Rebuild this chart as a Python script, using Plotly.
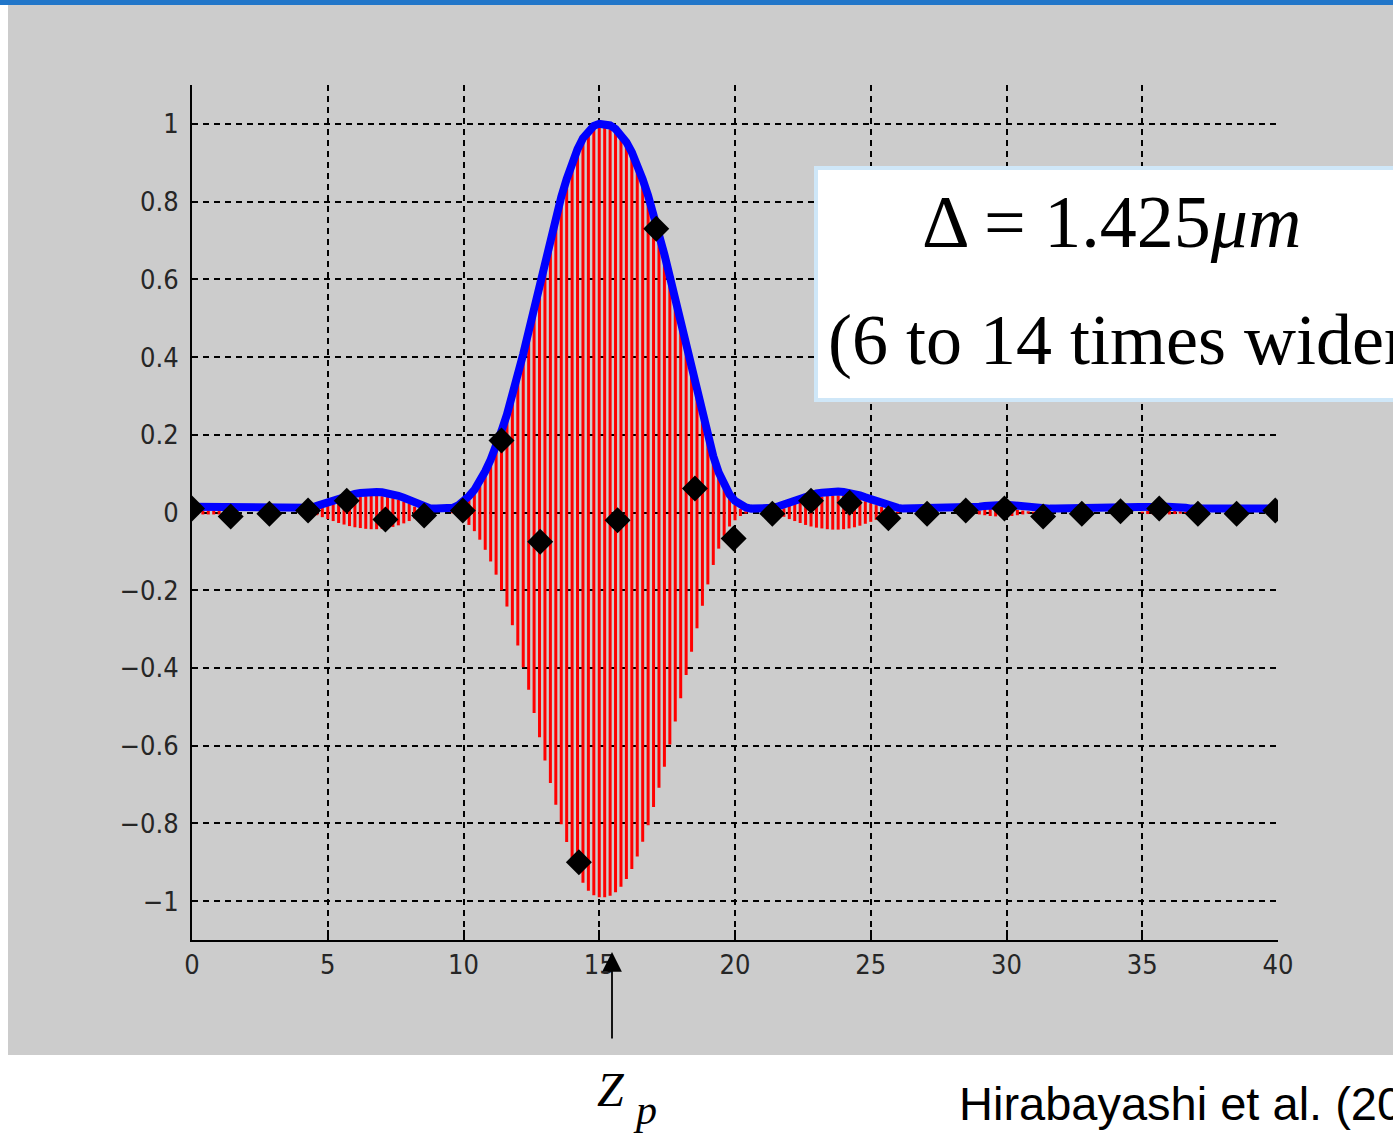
import plotly.graph_objects as go

# ---------------- data ----------------
env_step = 0.2
envelope = [
    0.015, 0.015, 0.015, 0.015, 0.015, 0.015, 0.015, 0.015, 0.012, 0.010,
    0.010, 0.010, 0.010, 0.010, 0.010, 0.010, 0.010, 0.010, 0.010, 0.010,
    0.010, 0.010, 0.012, 0.017, 0.022, 0.027, 0.032, 0.037, 0.041, 0.045,
    0.048, 0.050, 0.052, 0.053, 0.053, 0.052, 0.050, 0.047, 0.043, 0.038,
    0.032, 0.025, 0.018, 0.012, 0.010, 0.010, 0.010, 0.010, 0.012, 0.018,
    0.028, 0.042, 0.058, 0.080, 0.106, 0.136, 0.170, 0.210, 0.252, 0.300,
    0.352, 0.408, 0.466, 0.526, 0.588, 0.648, 0.706, 0.762, 0.812, 0.858,
    0.900, 0.935, 0.963, 0.983, 0.995, 1.000, 1.000, 0.996, 0.987, 0.973,
    0.953, 0.927, 0.895, 0.857, 0.815, 0.768, 0.718, 0.664, 0.607, 0.548,
    0.488, 0.428, 0.368, 0.308, 0.250, 0.195, 0.145, 0.103, 0.070, 0.046,
    0.030, 0.019, 0.013, 0.010, 0.010, 0.010, 0.010, 0.012, 0.016, 0.021,
    0.027, 0.032, 0.037, 0.042, 0.046, 0.049, 0.051, 0.053, 0.054, 0.054,
    0.053, 0.051, 0.048, 0.044, 0.039, 0.034, 0.029, 0.024, 0.019, 0.015,
    0.012, 0.010, 0.010, 0.010, 0.010, 0.010, 0.010, 0.010, 0.010, 0.010,
    0.010, 0.010, 0.010, 0.010, 0.012, 0.015, 0.017, 0.019, 0.020, 0.020,
    0.020, 0.019, 0.017, 0.015, 0.013, 0.012, 0.010, 0.010, 0.010, 0.010,
    0.010, 0.010, 0.010, 0.010, 0.010, 0.010, 0.010, 0.010, 0.010, 0.010,
    0.010, 0.010, 0.010, 0.010, 0.010, 0.012, 0.014, 0.015, 0.016, 0.016,
    0.015, 0.014, 0.013, 0.012, 0.010, 0.010, 0.010, 0.010, 0.010, 0.010,
    0.010, 0.010, 0.010, 0.010, 0.010, 0.010, 0.010, 0.010, 0.010, 0.010,
    0.010,
]
env_x = [round(i * env_step, 1) for i in range(len(envelope))]
baseline = 0.01

sample_x = [0.0, 1.425, 2.85, 4.275, 5.7, 7.125, 8.55, 9.975, 11.4, 12.825,
            14.25, 15.675, 17.1, 18.525, 19.95, 21.375, 22.8, 24.225, 25.65,
            27.075, 28.5, 29.925, 31.35, 32.775, 34.2, 35.625, 37.05, 38.475, 39.9]
sample_y = [0.010, -0.010, -0.003, 0.005, 0.030, -0.018, -0.008, 0.005, 0.185,
            -0.075, -0.900, -0.020, 0.730, 0.062, -0.067, -0.003, 0.030, 0.025,
            -0.015, -0.003, 0.005, 0.010, -0.010, -0.003, 0.003, 0.010, -0.003,
            -0.003, 0.005]

x_ticks = [0, 5, 10, 15, 20, 25, 30, 35, 40]
y_ticks = [-1, -0.8, -0.6, -0.4, -0.2, 0, 0.2, 0.4, 0.6, 0.8, 1]

# red fringe signal: vertical strokes spanning +/- envelope
red_x, red_y = [], []
for x, e in zip(env_x, envelope):
    a = max(e - baseline, 0.0)
    red_x += [x, x, None]
    red_y += [-a, a, None]

# ---------------- figure ----------------
W, H = 1393, 1138
L, R, T, B = 192, 1393 - 1278, 85, 1138 - 940
PW, PH = W - L - R, H - T - B


def px(xp):
    return (xp - L) / PW


def py(yp):
    return 1 - (yp - T) / PH


fig = go.Figure()
fig.add_trace(go.Scatter(x=red_x, y=red_y, mode="lines",
                         line=dict(color="#ff0000", width=3),
                         hoverinfo="skip", showlegend=False))
fig.add_trace(go.Scatter(x=env_x, y=envelope, mode="lines",
                         line=dict(color="#0000ff", width=8),
                         showlegend=False))
fig.add_trace(go.Scatter(x=sample_x, y=sample_y, mode="markers",
                         marker=dict(symbol="diamond", size=20, color="black"),
                         showlegend=False))
fig.add_trace(go.Scatter(x=sample_x, y=sample_y, mode="markers",
                         marker=dict(symbol="circle", size=16, color="black"),
                         showlegend=False))

tick_font = dict(family="Liberation Sans Narrow, DejaVu Sans Condensed, Arial Narrow, Liberation Sans, sans-serif",
                 size=27, color="#262626")
grid_common = dict(showgrid=True, gridcolor="black", gridwidth=1.5,
                   griddash="6px,5px", zeroline=False,
                   showline=True, linecolor="black", linewidth=2,
                   ticks="inside", tickcolor="black", tickwidth=1.5,
                   tickfont=tick_font)

fig.update_xaxes(range=[0, 40], tickvals=x_ticks, ticklen=10,
                 ticklabelstandoff=0, **grid_common)
fig.update_yaxes(range=[-1.1, 1.1], tickvals=y_ticks, ticklen=6,
                 ticklabelstandoff=6, **grid_common)

shapes = [
    # gray window background
    dict(type="rect", xref="paper", yref="paper", x0=px(8), x1=px(1500),
         y0=py(1055), y1=py(5), fillcolor="#cccccc", line=dict(width=0),
         layer="below"),
    # blue bar at the top
    dict(type="rect", xref="paper", yref="paper", x0=px(-10), x1=px(1500),
         y0=py(5), y1=py(-10), fillcolor="#2176c9", line=dict(width=0),
         layer="below"),
    # text box
    dict(type="rect", xref="paper", yref="paper", x0=px(816), x1=px(1450),
         y0=py(400), y1=py(168), fillcolor="white",
         line=dict(color="#cfe7f8", width=4), layer="above"),
]

annotations = [
    dict(xref="paper", yref="paper", x=px(1111), y=py(222),
         text="Δ = 1.425<i>μm</i>", showarrow=False, xanchor="center",
         yanchor="middle",
         font=dict(family="Liberation Serif, Times New Roman, serif", size=74,
                   color="black")),
    dict(xref="paper", yref="paper", x=px(826), y=py(340),
         text="(6 to 14 times wider)", showarrow=False, xanchor="left",
         yanchor="middle",
         font=dict(family="Liberation Serif, Times New Roman, serif", size=72,
                   color="black")),
    # arrow pointing to Zp
    dict(xref="paper", yref="paper", x=px(612), y=py(952), ax=0, ay=88,
         axref="pixel", ayref="pixel", text="", showarrow=True,
         arrowhead=2, arrowsize=2.2, arrowwidth=1.8, arrowcolor="black"),
    dict(xref="paper", yref="paper", x=px(611), y=py(1089), text="<i>Z</i>",
         showarrow=False, xanchor="center", yanchor="middle",
         font=dict(family="Liberation Serif, Times New Roman, serif", size=48,
                   color="black")),
    dict(xref="paper", yref="paper", x=px(645), y=py(1110), text="<i>p</i>",
         showarrow=False, xanchor="center", yanchor="middle",
         font=dict(family="Liberation Serif, Times New Roman, serif", size=42,
                   color="black")),
    dict(xref="paper", yref="paper", x=px(957), y=py(1103),
         text="Hirabayashi et al. (20", showarrow=False, xanchor="left",
         yanchor="middle",
         font=dict(family="Liberation Sans, Arial, sans-serif", size=47,
                   color="black")),
]

fig.update_layout(
    width=W, height=H, autosize=False,
    margin=dict(l=L, r=R, t=T, b=B, pad=0),
    paper_bgcolor="white", plot_bgcolor="white",
    shapes=shapes, annotations=annotations, showlegend=False,
)

fig.write_html("out.html")
